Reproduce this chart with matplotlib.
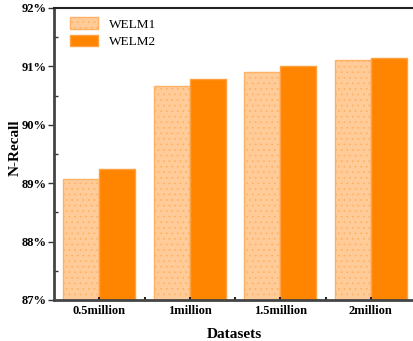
import matplotlib.pyplot as plt
import numpy as np
from matplotlib.ticker import MultipleLocator, FuncFormatter

plt.rcParams['font.family'] = 'Liberation Serif'
plt.rcParams['hatch.linewidth'] = 0.6

# data
datasets = ['0.5million', '1million', '1.5million', '2million']
welm1 = [89.08, 90.66, 90.91, 91.11]
welm2 = [89.25, 90.78, 91.00, 91.15]

fig = plt.figure(figsize=(4.13, 3.41), dpi=100)
ax = fig.add_axes([54 / 413, 41 / 341, 362 / 413, 292 / 341])

x = np.arange(len(datasets))
w = 0.4
ax.bar(x - w / 2, welm1, w, color='#FFCC99', edgecolor='#FFB266',
       linewidth=1, hatch='...', label='WELM1')
ax.bar(x + w / 2, welm2, w, color='#FF8500', edgecolor='#FFA040',
       linewidth=1, label='WELM2')

ax.set_ylim(87, 92)
ax.set_xlim(-0.5, 3.5)
ax.yaxis.set_major_locator(MultipleLocator(1))
ax.yaxis.set_minor_locator(MultipleLocator(0.5))
ax.yaxis.set_major_formatter(FuncFormatter(lambda v, p: f'{v:.0f}%'))
ax.set_xticks(x)
ax.set_xticks(x[:-1] + 0.5, minor=True)
ax.set_xticklabels(datasets)

for lab in ax.get_xticklabels() + ax.get_yticklabels():
    lab.set_fontweight('bold')
    lab.set_fontsize(9)

ax.tick_params(axis='y', which='major', direction='out', length=4, width=1,
               color='#333333', pad=1)
ax.tick_params(axis='y', which='minor', direction='in', length=3, width=1, color='#333333')
ax.tick_params(axis='x', which='both', direction='in', length=2, width=1.5, color='#222222')

for s in ['left', 'bottom']:
    ax.spines[s].set_linewidth(2)
    ax.spines[s].set_color('#444444')
ax.spines['top'].set_linewidth(1.5)
ax.spines['top'].set_color('#222222')
ax.spines['right'].set_visible(False)

ax.set_xlabel('Datasets', fontsize=11, fontweight='bold')
ax.set_ylabel('N-Recall', fontsize=11, fontweight='bold')
ax.xaxis.set_label_coords(0.497, -0.095)
ax.yaxis.set_label_coords(-0.09, 0.52)

ax.legend(loc='upper left', frameon=False, fontsize=9.5, handlelength=2.1,
          handleheight=1.0, bbox_to_anchor=(0.02, 1.0), borderaxespad=0.3,
          labelspacing=0.3)

fig.savefig('out.png', dpi=100)
